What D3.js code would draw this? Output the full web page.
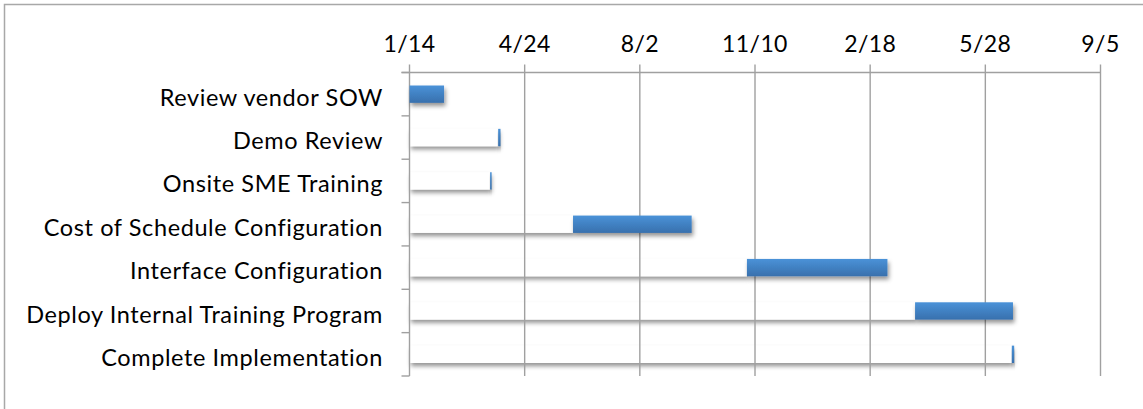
<!DOCTYPE html>
<html>
<head>
<meta charset="utf-8">
<script src="https://d3js.org/d3.v7.min.js"></script>
<style>
  html, body { margin: 0; padding: 0; background: #fff; }
  svg { display: block; }
  text { font-family: Lato, "Open Sans", sans-serif; fill: #000; }
</style>
</head>
<body>
<svg id="chart" width="1143" height="409"></svg>
<script>
// ---- data ----
const tasks = [
  "Review vendor SOW",
  "Demo Review",
  "Onsite SME Training",
  "Cost of Schedule Configuration",
  "Interface Configuration",
  "Deploy Internal Training Program",
  "Complete Implementation"
];
const startDates = [
  "2015-01-14",
  "2015-04-01",
  "2015-03-25",
  "2015-06-05",
  "2015-11-03",
  "2016-03-28",
  "2016-06-20"
];
const durations = [30, 2, 1, 103, 122, 85, 2];
const tickDates = [
  "2015-01-14", "2015-04-24", "2015-08-02", "2015-11-10",
  "2016-02-18", "2016-05-28", "2016-09-05"
];

(function () {
// ---- setup ----
const parse = d3.utcParse("%Y-%m-%d");
const fmt = d3.utcFormat("%-m/%-d");
const rows = tasks.map((t, i) => {
  const s = parse(startDates[i]);
  return { task: t, start: s, end: d3.utcDay.offset(s, durations[i]) };
});
const ticks = tickDates.map(parse);

const svg = d3.select("#chart");
const pLeft = 409.5, pRight = 1100.5, pTop = 72.5, pBottom = 376;

const x = d3.scaleUtc()
  .domain([ticks[0], ticks[ticks.length - 1]])
  .range([pLeft, pRight]);

const y = d3.scaleBand()
  .domain(tasks)
  .range([pTop, pBottom])
  .paddingInner(0.6)
  .paddingOuter(0.3);

const defs = svg.append("defs");
const grad = defs.append("linearGradient")
  .attr("id", "barGrad").attr("x1", 0).attr("y1", 0).attr("x2", 0).attr("y2", 1);
grad.append("stop").attr("offset", "0%").attr("stop-color", "#4a92d8");
grad.append("stop").attr("offset", "100%").attr("stop-color", "#3870ad");

const shadow = defs.append("filter").attr("id", "shadow")
  .attr("x", "-10%").attr("y", "-60%").attr("width", "130%").attr("height", "280%");
shadow.append("feDropShadow")
  .attr("dx", 1.5).attr("dy", 3.2).attr("stdDeviation", 2.1)
  .attr("flood-color", "#000").attr("flood-opacity", 0.42);

// outer frame
svg.append("rect")
  .attr("x", 4.5).attr("y", 4.5).attr("width", 1200).attr("height", 500)
  .attr("fill", "none").attr("stroke", "#a8a8a8").attr("stroke-width", 1.5);

// invisible (white) lead segments with shadow
svg.append("g").selectAll("rect")
  .data(rows.filter(d => x(d.start) - pLeft > 0.5))
  .join("rect")
  .attr("x", pLeft)
  .attr("y", d => y(d.task))
  .attr("width", d => x(d.start) - pLeft)
  .attr("height", y.bandwidth())
  .attr("fill", "#fff")
  .attr("filter", "url(#shadow)");

// gridlines
const gridColor = "#a0a0a0";
svg.append("g").selectAll("line")
  .data(ticks)
  .join("line")
  .attr("x1", d => x(d)).attr("x2", d => x(d))
  .attr("y1", pTop - 8).attr("y2", pBottom)
  .attr("stroke", gridColor).attr("stroke-width", 1.4);

// top axis line
svg.append("line")
  .attr("x1", pLeft - 8).attr("x2", pRight)
  .attr("y1", pTop).attr("y2", pTop)
  .attr("stroke", gridColor).attr("stroke-width", 1.4);

// category ticks
const step = y.step();
svg.append("g").selectAll("line")
  .data(d3.range(tasks.length + 1))
  .join("line")
  .attr("x1", pLeft - 8).attr("x2", pLeft)
  .attr("y1", i => pTop + i * step).attr("y2", i => pTop + i * step)
  .attr("stroke", gridColor).attr("stroke-width", 1.4);

// task bars
svg.append("g").selectAll("rect")
  .data(rows)
  .join("rect")
  .attr("x", d => x(d.start))
  .attr("y", d => y(d.task))
  .attr("width", d => Math.max(1.5, x(d.end) - x(d.start)))
  .attr("height", y.bandwidth())
  .attr("fill", "url(#barGrad)")
  .attr("filter", "url(#shadow)");

// tick labels
svg.append("g").selectAll("text")
  .data(ticks)
  .join("text")
  .attr("x", d => x(d))
  .attr("y", 52)
  .attr("text-anchor", "middle")
  .style("font-size", "23px")
  .style("letter-spacing", "0.4px")
  .text(d => fmt(d));

// task labels
svg.append("g").selectAll("text")
  .data(tasks)
  .join("text")
  .attr("x", 383)
  .attr("y", d => y(d) + y.bandwidth() / 2 + 11.6)
  .attr("text-anchor", "end")
  .style("font-size", "23.5px")
  .style("letter-spacing", "0.6px")
  .text(d => d);
})();
</script>
</body>
</html>
